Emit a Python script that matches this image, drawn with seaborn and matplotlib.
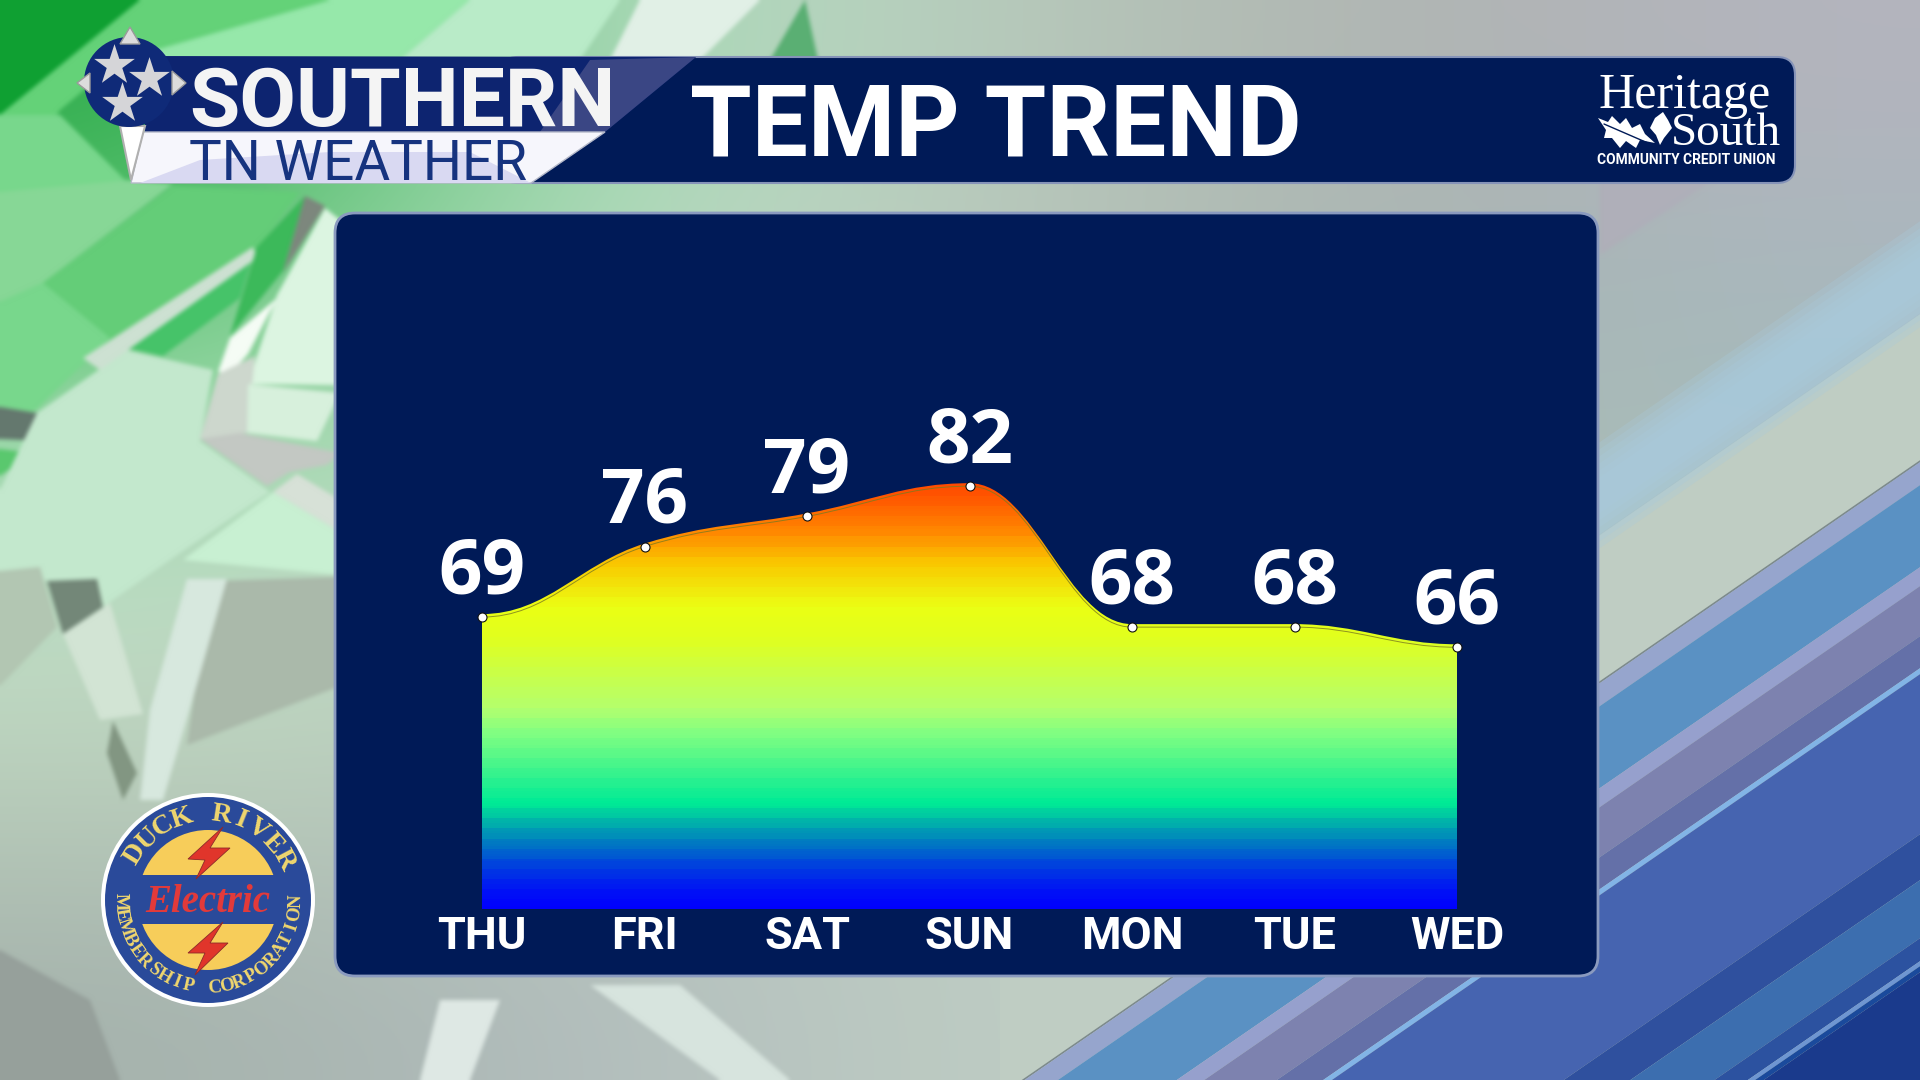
"""
Temp trend graphic - seven day area spline on a TV weather background
"""
import numpy as np
import matplotlib
matplotlib.use("Agg")
import matplotlib.pyplot as plt
import seaborn as sns
from matplotlib.colors import LinearSegmentedColormap, ListedColormap
from matplotlib.patches import Circle, FancyBboxPatch, PathPatch, Polygon, Rectangle
from matplotlib.path import Path
from matplotlib.transforms import ScaledTranslation

days = ["THU", "FRI", "SAT", "SUN", "MON", "TUE", "WED"]
temps = [69, 76, 79, 82, 68, 68, 66]

# temperature colour scale (value, colour)
scale_temps = [40, 41.9, 44.6, 46.8, 48.6, 50.5, 57.5, 60, 67, 70, 74.4, 77.3, 81, 84]
scale_colors = ["#0000ff", "#0014f5", "#0046dc", "#0082be", "#00b4aa", "#00eb96", "#82ff82",
                "#b4ff6e", "#e1ff1e", "#ebff14", "#fac800", "#ff8c00", "#ff5500", "#ff4000"]

NAVY = "#001a57"

sns.set_theme(style="white")
plt.rcParams["font.family"] = ["Roboto", "DejaVu Sans"]

# ---------------------------------------------------------------
# background: soft colour grid and flat shards, rendered once and blurred
# ---------------------------------------------------------------
grid = np.array([
    [(40, 170, 70), (175, 225, 190), (185, 205, 190), (175, 180, 175), (180, 180, 190)],
    [(110, 205, 130), (190, 225, 200), (190, 200, 190), (165, 180, 175), (165, 185, 190)],
    [(190, 225, 200), (190, 215, 195), (190, 200, 190), (175, 190, 180), (170, 190, 185)],
    [(190, 212, 190), (188, 204, 188), (190, 205, 195), (190, 205, 195), (180, 195, 185)],
    [(165, 178, 172), (178, 188, 190), (190, 205, 195), (190, 205, 195), (180, 195, 185)],
], dtype=float) / 255

shards = [
    ((15, 160, 50), [(0, 0), (140, 0), (0, 115)]),
    ((100, 210, 120), [(0, 115), (140, 0), (330, 0), (120, 60), (60, 110), (0, 195)]),
    ((150, 232, 170), [(330, 0), (470, 0), (400, 60), (120, 60)]),
    ((185, 235, 200), [(470, 0), (620, 0), (580, 60), (400, 60)]),
    ((225, 240, 230), [(640, 0), (760, 0), (700, 60), (610, 60)]),
    ((90, 175, 115), [(805, 0), (818, 60), (770, 60)]),
    ((120, 215, 140), [(0, 115), (60, 115), (130, 185), (0, 300)]),
    ((135, 215, 150), [(0, 192), (130, 180), (173, 184), (43, 283), (0, 302)]),
    ((100, 205, 120), [(43, 283), (173, 186), (300, 192), (253, 255), (127, 346), (60, 350)]),
    ((70, 195, 105), [(127, 348), (253, 255), (240, 298), (163, 356)]),
    ((120, 215, 140), [(0, 302), (43, 283), (110, 338), (37, 409), (0, 433)]),
    ((100, 120, 110), [(0, 407), (37, 413), (45, 441), (0, 439)]),
    ((90, 200, 110), [(0, 449), (33, 453), (0, 476)]),
    ((195, 232, 205), [(37, 413), (127, 350), (213, 370), (200, 441), (270, 492), (177, 555),
                       (103, 607), (45, 580), (0, 610), (0, 490)]),
    ((205, 225, 210), [(83, 358), (253, 247), (257, 258), (100, 370)]),
    ((60, 185, 90), [(257, 247), (305, 196), (283, 271), (230, 336)]),
    ((125, 135, 125), [(305, 196), (325, 206), (283, 273)]),
    ((220, 245, 225), [(325, 208), (340, 220), (340, 385), (248, 384), (277, 295)]),
    ((245, 252, 245), [(230, 338), (277, 298), (248, 354), (230, 374), (218, 372)]),
    ((205, 215, 205), [(218, 374), (255, 356), (247, 433), (200, 439)]),
    ((215, 240, 220), [(248, 384), (340, 393), (317, 441), (247, 433)]),
    ((195, 200, 195), [(200, 439), (240, 433), (340, 453), (327, 465), (290, 472), (267, 486)]),
    ((200, 240, 210), [(273, 492), (340, 532), (340, 575), (183, 560)]),
    ((215, 225, 215), [(273, 492), (297, 474), (340, 500), (340, 532)]),
    ((170, 185, 170), [(213, 581), (340, 577), (340, 686), (187, 745), (200, 654)]),
    ((215, 232, 222), [(187, 579), (227, 579), (200, 674), (163, 800), (140, 800), (150, 710)]),
    ((178, 198, 178), [(0, 571), (40, 567), (57, 627), (0, 686)]),
    ((115, 135, 120), [(47, 581), (97, 579), (103, 607), (63, 634)]),
    ((210, 228, 212), [(63, 634), (110, 603), (143, 714), (100, 720)]),
    ((130, 150, 130), [(113, 721), (137, 773), (123, 800), (107, 753)]),
    ((215, 228, 222), [(590, 985), (680, 985), (790, 1080), (720, 1080)]),
    ((222, 232, 228), [(440, 1000), (500, 1000), (470, 1080), (420, 1080)]),
    ((150, 160, 155), [(0, 950), (90, 1000), (120, 1080), (0, 1080)]),
    ((175, 175, 185), [(1600, 180), (1713, 180), (1600, 255)]),
]

pre = plt.figure(figsize=(19.2, 10.8), dpi=100)
pa = pre.add_axes([0, 0, 1, 1])
pa.imshow(grid, extent=[0, 1920, 1080, 0], aspect="auto", interpolation="bicubic")
pa.set_xlim(0, 1920)
pa.set_ylim(1080, 0)
pa.axis("off")
for rgb, pts in shards:
    pa.add_patch(Polygon(pts, closed=True, fc=np.array(rgb) / 255, ec="none"))
pre.canvas.draw()
backdrop = np.asarray(pre.canvas.buffer_rgba())[:, :, :3].astype(float) / 255
plt.close(pre)


def box_blur(img, r):
    kernel = np.ones(2 * r + 1) / (2 * r + 1)
    for axis in (0, 1):
        pad = [(r, r) if a == axis else (0, 0) for a in range(3)]
        padded = np.pad(img, pad, mode="edge")
        img = np.apply_along_axis(lambda v: np.convolve(v, kernel, mode="valid"), axis, padded)
    return img


backdrop = box_blur(box_blur(backdrop, 2), 2)

fig = plt.figure(figsize=(19.2, 10.8), dpi=100)
bg = fig.add_axes([0, 0, 1, 1])
bg.imshow(backdrop, extent=[0, 1920, 1080, 0], aspect="auto", zorder=0)
bg.set_xlim(0, 1920)
bg.set_ylim(1080, 0)
bg.axis("off")


def band(d0, d1, color, left=1000, alpha=1.0):
    # stripes parallel to the edge of the blue field
    right = 1920
    edge = lambda x: 682 - 0.69 * (x - 1600)
    pts = [(left, edge(left) + d0), (right, edge(right) + d0),
           (right, edge(right) + d1), (left, edge(left) + d1)]
    bg.add_patch(Polygon(pts, closed=True, fc=color, ec="none", alpha=alpha, zorder=1))


band(-147, 0, "#bfcdc3")
# light blue sweep with soft edges
for step in range(6):
    band(-240 + step * 7, -134 - step * 7, "#a8cadc", left=1300, alpha=0.3)
band(-1, 1, "#7d8a8c")
band(1, 24, "#96a5cd")
band(24, 106, "#5a91c3")
band(106, 125, "#96a0cd")
band(125, 175, "#7d82af")
band(175, 207, "#6470a8")
band(207, 213, "#82b4e6")
band(213, 373, "#4664b0")
band(373, 419, "#2f509e")
band(419, 477, "#3c6eaf")
band(477, 500, "#2c52a0")
band(500, 505, "#6e96d2")
band(505, 511, "#1a4a9c")
band(511, 900, "#1a3a8c")

# ---------------------------------------------------------------
# header bar and panel
# ---------------------------------------------------------------
bg.add_patch(FancyBboxPatch((500, 57), 1295, 126, boxstyle="round,pad=0,rounding_size=18",
                            fc=NAVY, ec="#8593b8", lw=1.5, zorder=2))
bg.add_patch(FancyBboxPatch((335, 213), 1263, 763, boxstyle="round,pad=0,rounding_size=20",
                            fc=NAVY, ec="#8a9abf", lw=2, zorder=2))
bg.text(690, 155, "TEMP TREND", color="white", fontsize=71.8, fontweight="bold",
        va="baseline", zorder=5)

# Southern TN Weather logo
bg.add_patch(Polygon([(145, 56), (696, 57), (605, 132), (145, 132)], fc="#0d2470", ec="none", zorder=3))
bg.add_patch(Polygon([(590, 60), (696, 57), (605, 132), (540, 132)], fc="#3a4684", ec="none", zorder=3))
bg.add_patch(Polygon([(143, 132), (605, 132), (531, 183), (131, 183)], fc="#f6f6fc", ec="#b5b9c9", lw=1, zorder=3))
bg.add_patch(Polygon([(140, 183), (200, 160), (330, 152), (470, 152), (531, 183)], fc="#d9d9f2", ec="none", zorder=3))
bg.add_patch(Polygon([(120, 126), (145, 126), (131, 180)], fc="white", ec="#b0b0b0", lw=1.5, zorder=4))
bg.add_patch(Circle((129, 82), 45, fc="#0f2a78", ec="none", zorder=4))
for x, y in [(114, 65), (149, 78), (122, 103)]:
    bg.scatter([x], [y], marker="*", s=950, c="#d5d5d8", linewidths=0, zorder=5)
for pts in [[(130, 27), (120, 44), (140, 44)], [(77, 83), (90, 73), (90, 93)], [(186, 83), (172, 71), (172, 95)]]:
    bg.add_patch(Polygon(pts, fc="#dcdcdc", ec="#9a9a9a", lw=1, zorder=6))
bg.text(189, 126, "SOUTHERN", color="#f4f4f4", fontsize=59, fontweight="bold", va="baseline", zorder=6)
bg.text(189, 180, "TN WEATHER", color="#16337f", fontsize=39.5, va="baseline", zorder=6)

# Heritage South logo
serif = ["Liberation Serif", "DejaVu Serif"]
bg.text(1598, 108, "Heritage", color="white", fontsize=36, family=serif, va="baseline", zorder=5)
bg.text(1671, 145, "South", color="white", fontsize=34, family=serif, va="baseline", zorder=5)
bg.text(1597, 164, "COMMUNITY CREDIT UNION", color="white", fontsize=9.9, fontweight="bold",
        va="baseline", zorder=5)
leaf = [(1598, 118), (1608, 122), (1612, 116), (1620, 124), (1626, 118), (1632, 128), (1640, 124),
        (1645, 134), (1655, 143), (1640, 140), (1636, 148), (1626, 141), (1620, 148), (1612, 138),
        (1604, 138), (1606, 130)]
bg.add_patch(Polygon(leaf, fc="white", ec="none", zorder=5))
sprig = [(1655, 118), (1663, 112), (1668, 120), (1672, 128), (1664, 138), (1660, 145), (1656, 135), (1650, 128)]
bg.add_patch(Polygon(sprig, fc="white", ec="none", zorder=5))
bg.plot([1604, 1664], [124, 150], color=NAVY, lw=1, zorder=6)

# Duck River logo
cx, cy = 208, 900
bg.add_patch(Circle((cx, cy), 107, fc="white", ec="none", zorder=3))
bg.add_patch(Circle((cx, cy), 103, fc="#2a4a9a", ec="none", zorder=3))
for top, bottom in [(820, 875), (924, 980)]:
    sun = Circle((cx, cy), 70, fc="#f7cd5a", ec="none", zorder=4)
    bg.add_patch(sun)
    sun.set_clip_path(Rectangle((100, top), 220, bottom - top, transform=bg.transData))
for pts in [[(223, 827), (210, 848), (230, 848), (196, 879), (205, 860), (188, 859)],
            [(223, 922), (210, 943), (228, 943), (195, 975), (205, 953), (188, 953)]]:
    bg.add_patch(Polygon(pts, fc="#e0352b", ec="#8c2a2a", lw=0.6, zorder=5))
bg.text(cx, cy + 3, "Electric", color="#e23a3a", fontsize=28, fontweight="bold", style="italic",
        family=serif, ha="center", va="center", zorder=6)

top_text = "DUCK RIVER"
for ch, a in zip(top_text, np.linspace(148, 28, len(top_text))):
    r = np.radians(a)
    bg.text(cx + 86 * np.cos(r), cy - 86 * np.sin(r), ch, color="#f0d76e", fontsize=20,
            fontweight="bold", family=serif, ha="center", va="center", rotation=a - 90,
            rotation_mode="anchor", zorder=6)
low_text = "MEMBERSHIP CORPORATION"
for ch, a in zip(low_text, np.linspace(181, 359, len(low_text))):
    r = np.radians(a)
    bg.text(cx + 88 * np.cos(r), cy - 88 * np.sin(r), ch, color="#f0d76e", fontsize=13.5,
            fontweight="bold", family=serif, ha="center", va="center", rotation=a - 270,
            rotation_mode="anchor", zorder=6)

# ---------------------------------------------------------------
# chart: x 0..6 sits on 482..1457 px, y 40..100 on 909..305 px
# ---------------------------------------------------------------
ax = fig.add_axes([482 / 1920, 1 - 909 / 1080, (1457 - 482) / 1920, (909 - 305) / 1080], zorder=3)
ax.patch.set_alpha(0)
ax.set_xlim(0, 6)
ax.set_ylim(40, 100)
sns.despine(ax=ax, left=True, bottom=True)


def spline_path(xs, ys, base=None):
    # area spline control points (smoothing 1.5, flat at peaks and at both ends)
    n = len(xs)
    left = {n - 1: (xs[-1] - (xs[-1] - xs[-2]) / 2.5, ys[-1])}
    right = {0: (xs[0] + (xs[1] - xs[0]) / 2.5, ys[0])}
    for i in range(1, n - 1):
        lx = (1.5 * xs[i] + xs[i - 1]) / 2.5
        ly = (1.5 * ys[i] + ys[i - 1]) / 2.5
        rx = (1.5 * xs[i] + xs[i + 1]) / 2.5
        ry = (1.5 * ys[i] + ys[i + 1]) / 2.5
        corr = (ry - ly) * (rx - xs[i]) / (rx - lx) + ys[i] - ry
        ly, ry = ly + corr, ry + corr
        if ly > ys[i] and ly > ys[i - 1]:
            ly = max(ys[i], ys[i - 1])
            ry = 2 * ys[i] - ly
        elif ly < ys[i] and ly < ys[i - 1]:
            ly = min(ys[i], ys[i - 1])
            ry = 2 * ys[i] - ly
        if ry > ys[i] and ry > ys[i + 1]:
            ry = max(ys[i], ys[i + 1])
            ly = 2 * ys[i] - ry
        elif ry < ys[i] and ry < ys[i + 1]:
            ry = min(ys[i], ys[i + 1])
            ly = 2 * ys[i] - ry
        left[i], right[i] = (lx, ly), (rx, ry)
    verts, codes = [(xs[0], ys[0])], [Path.MOVETO]
    for i in range(1, n):
        verts += [right[i - 1], left[i], (xs[i], ys[i])]
        codes += [Path.CURVE4] * 3
    if base is not None:
        verts += [(xs[-1], base), (xs[0], base), (xs[0], ys[0])]
        codes += [Path.LINETO, Path.LINETO, Path.CLOSEPOLY]
    return Path(verts, codes)


x_pos = np.arange(len(days))
up3 = ScaledTranslation(0, 0.03, fig.dpi_scale_trans)

# fill with faint one-degree bands, clipped to the spline area
cmap_smooth = LinearSegmentedColormap.from_list(
    "temp", [((t - 40) / 44, c) for t, c in zip(scale_temps, scale_colors)])
bands = np.arange(40, 84, 0.25)
smooth_rgb = cmap_smooth((bands + 0.125 - 40) / 44)
step_rgb = cmap_smooth((np.floor(bands) + 0.5 - 40) / 44)
band_cmap = ListedColormap(0.5 * smooth_rgb + 0.5 * step_rgb)
area = PathPatch(spline_path(x_pos, temps, base=39), fc="none", ec="none")
ax.add_patch(area)
area.set_transform(ax.transData + up3)
fill = ax.imshow(bands[::-1].reshape(-1, 1), extent=[0, 6, 40, 84], aspect="auto",
                 cmap=band_cmap, interpolation="nearest")
fill.set_clip_path(area)
ax.set_xlim(0, 6)
ax.set_ylim(40, 100)

# thin line through the points, then the markers
ax.add_patch(PathPatch(spline_path(x_pos, temps), fc="none", ec="#7a7a20", lw=0.7, alpha=0.8, zorder=4))
sns.scatterplot(x=x_pos, y=temps, ax=ax, s=42, color="white", edgecolor="#101010", linewidth=0.8,
                clip_on=False, zorder=5, legend=False)

for x, t in zip(x_pos, temps):
    ax.annotate(str(t), (x, t), xytext=(0, 17.3), textcoords="offset points", ha="center",
                va="baseline", color="white", fontsize=55, fontweight="bold",
                family=["Open Sans", "Noto Sans"], annotation_clip=False)

ax.set_xticks(x_pos)
ax.set_xticklabels(days, color="white", fontsize=32.5, fontweight="bold")
ax.set_yticks([])
ax.set_xlabel("")
ax.tick_params(axis="x", length=0, pad=5)
ax.grid(False)

fig.savefig("out.png", dpi=100)
